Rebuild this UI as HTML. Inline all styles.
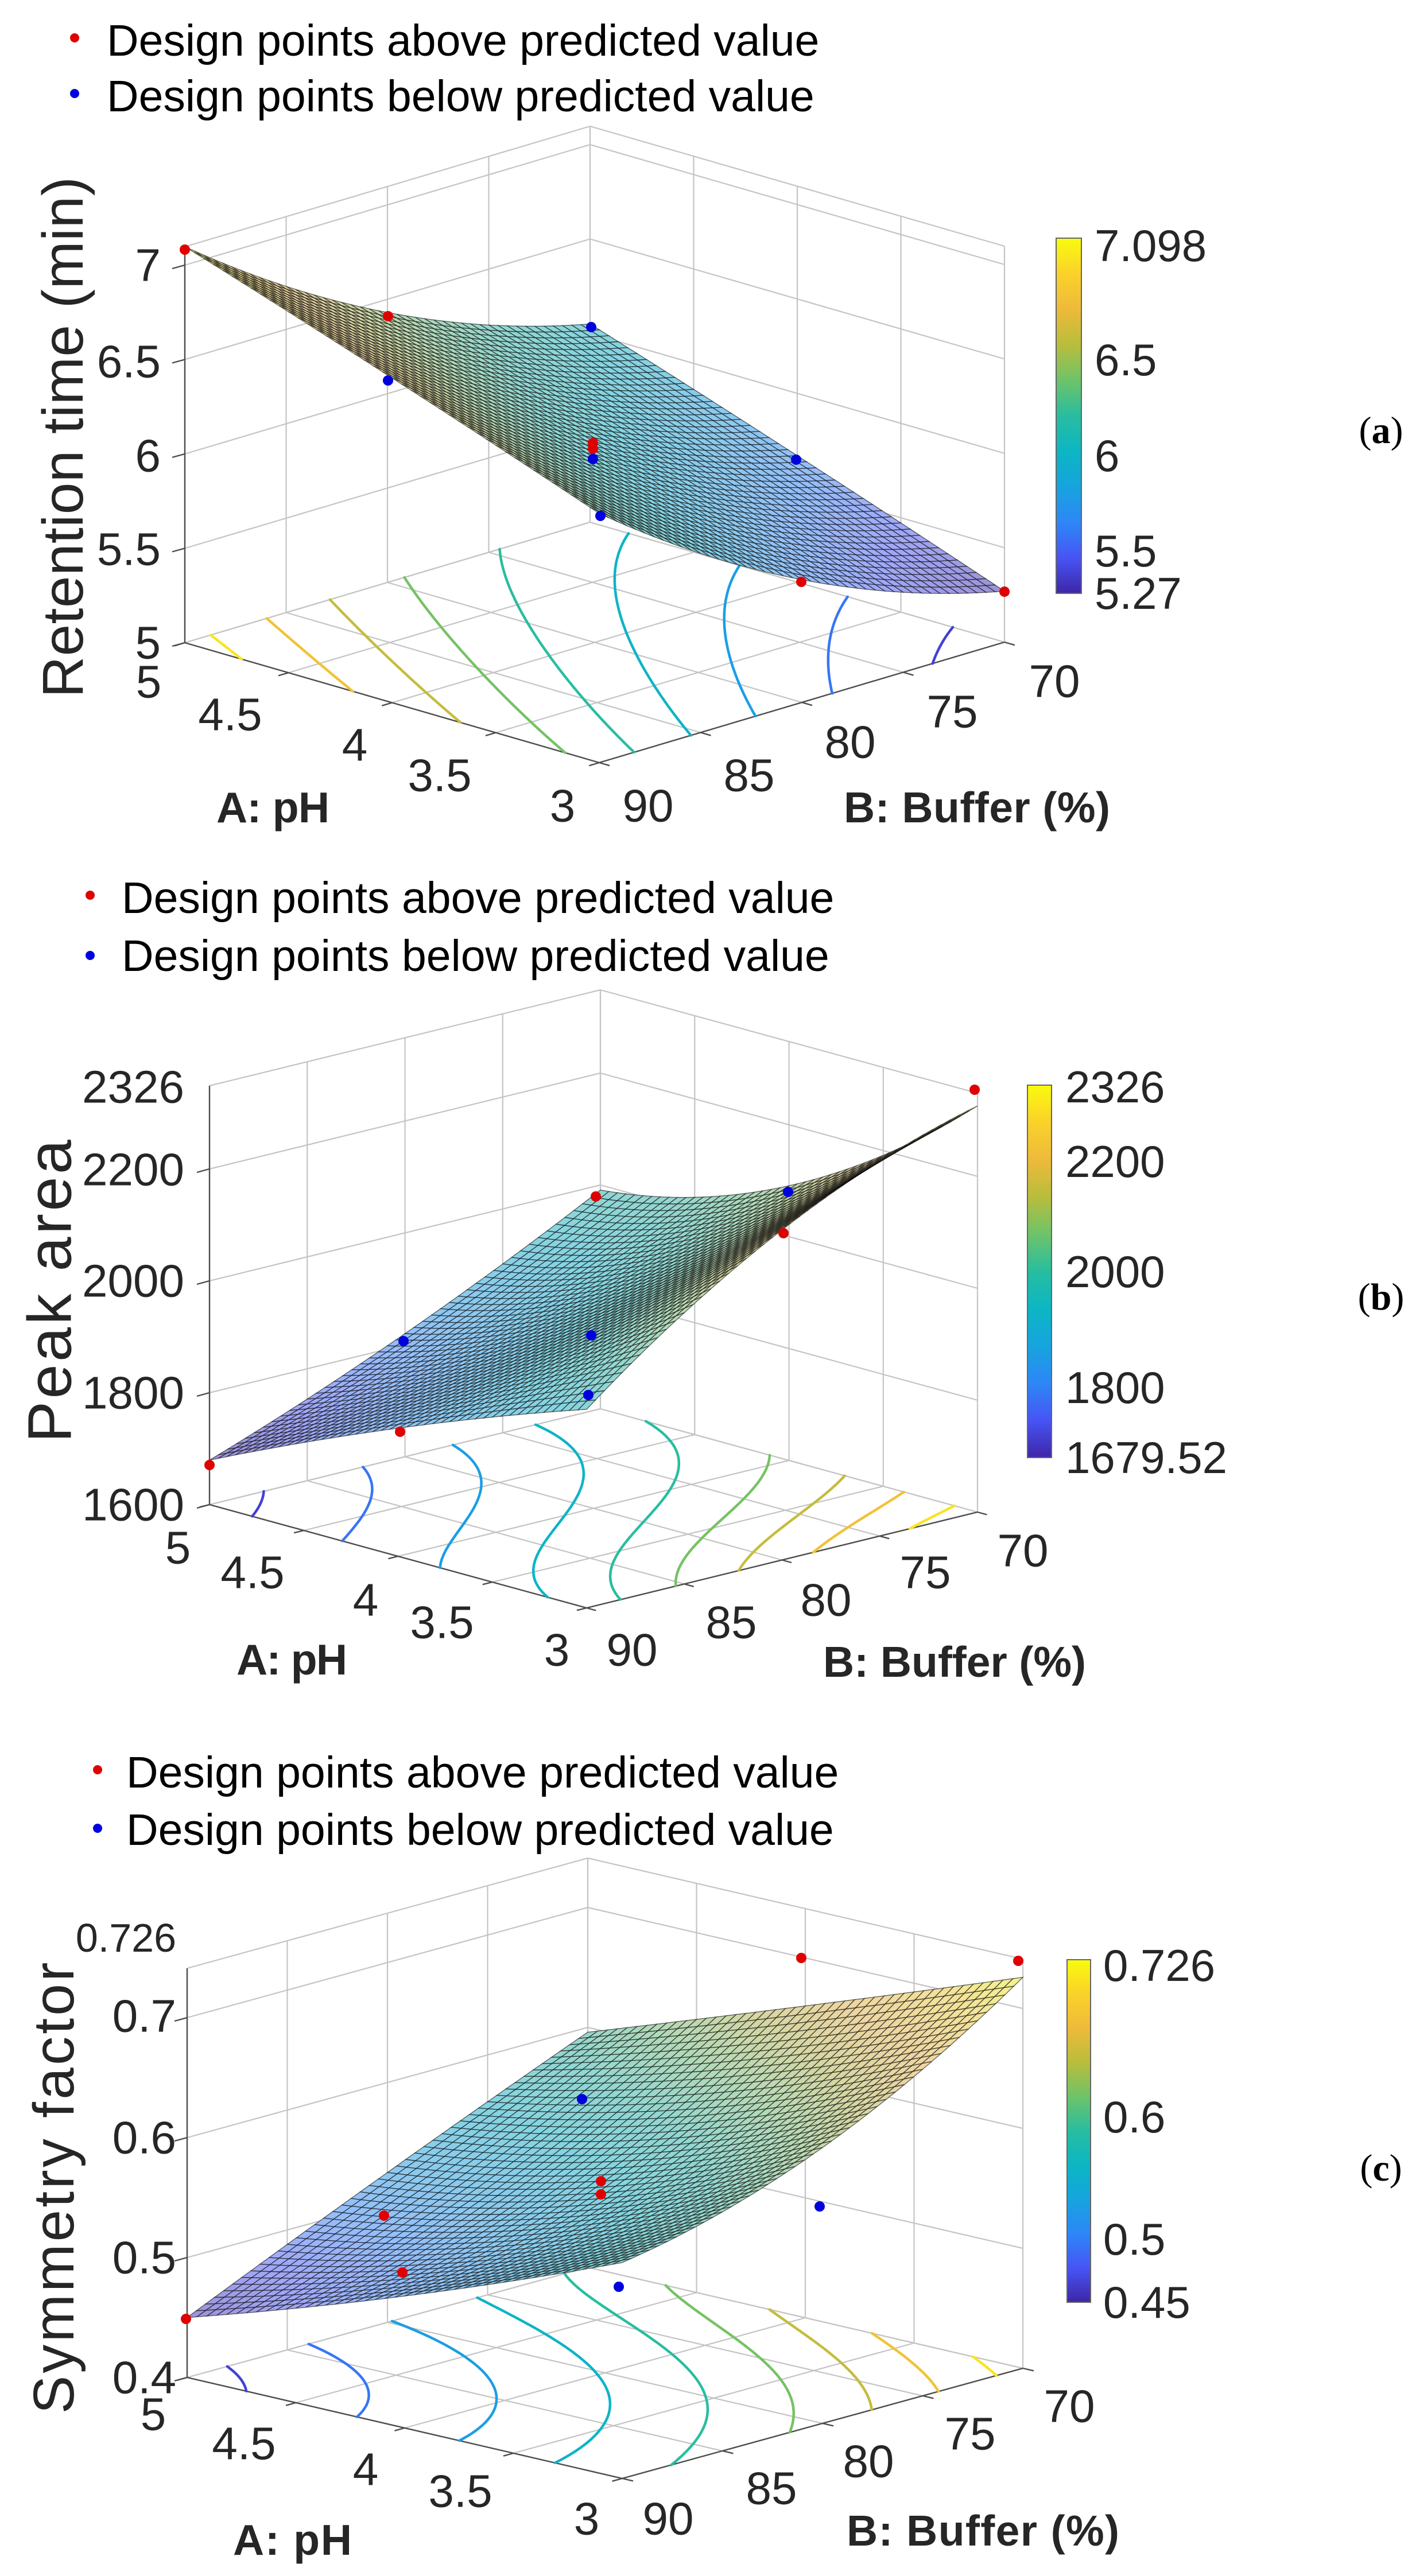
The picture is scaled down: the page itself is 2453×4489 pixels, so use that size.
<!DOCTYPE html>
<html><head><meta charset="utf-8">
<style>
html,body{margin:0;padding:0;background:#fff;}
svg{display:block;}
text{font-family:"Liberation Sans",Arial,sans-serif;fill:#262626;}
.tk{font-size:80px;}
.lg{font-size:77px;fill:#000;}
.ax{font-size:75px;font-weight:bold;}
.cb{font-size:78px;}
.pl{font-family:"Liberation Serif",serif;font-size:66px;fill:#000;}
</style></head><body>
<svg id="s" xmlns="http://www.w3.org/2000/svg" width="2453" height="4489" viewBox="0 0 2453 4489">
<defs>
<linearGradient id="par" x1="0" y1="1" x2="0" y2="0">
<stop offset="0" stop-color="rgb(62,38,168)"/>
<stop offset="0.1" stop-color="rgb(71,84,245)"/>
<stop offset="0.2" stop-color="rgb(45,135,247)"/>
<stop offset="0.3" stop-color="rgb(22,164,222)"/>
<stop offset="0.4" stop-color="rgb(12,182,195)"/>
<stop offset="0.5" stop-color="rgb(40,189,160)"/>
<stop offset="0.6" stop-color="rgb(110,195,105)"/>
<stop offset="0.7" stop-color="rgb(185,189,60)"/>
<stop offset="0.8" stop-color="rgb(238,186,58)"/>
<stop offset="0.9" stop-color="rgb(250,210,42)"/>
<stop offset="1" stop-color="rgb(249,251,14)"/>
</linearGradient>
</defs>
<g id="g0"></g><g id="g1"></g><g id="g2"></g>

<!-- Panel a text -->
<circle cx="130" cy="66" r="8" fill="#e00000"/>
<circle cx="130" cy="163" r="8" fill="#0000e0"/>
<text class="lg" x="186" y="97">Design points above predicted value</text>
<text class="lg" x="186" y="194">Design points below predicted value</text>
<text x="110" y="762" text-anchor="middle" transform="rotate(-90 110 762)" dominant-baseline="central" textLength="908" style="font-size:100px">Retention time (min)</text>
<g class="tk" text-anchor="end" dominant-baseline="central">
<text x="280" y="462">7</text><text x="280" y="630">6.5</text><text x="280" y="794">6</text><text x="280" y="957">5.5</text><text x="280" y="1120">5</text>
</g>
<g class="tk" text-anchor="middle" dominant-baseline="central">
<text x="259" y="1188">5</text><text x="401" y="1245">4.5</text><text x="618" y="1298">4</text><text x="766" y="1351">3.5</text><text x="980" y="1404">3</text>
<text x="1129" y="1404">90</text><text x="1305" y="1351">85</text><text x="1481" y="1293">80</text><text x="1659" y="1240">75</text><text x="1837" y="1187">70</text>
</g>
<text class="ax" x="377" y="1433" textLength="197">A: pH</text>
<text class="ax" x="1470" y="1433" textLength="464">B: Buffer (%)</text>
<rect x="1840" y="415" width="44" height="619" fill="url(#par)" stroke="#666" stroke-width="2"/>
<g class="cb" dominant-baseline="central">
<text x="1907" y="428">7.098</text><text x="1907" y="627">6.5</text><text x="1907" y="794">6</text><text x="1907" y="960">5.5</text><text x="1907" y="1034">5.27</text>
</g>
<text class="pl" x="2406" y="750" text-anchor="middle" dominant-baseline="central">(<tspan font-weight="bold">a</tspan>)</text>

<!-- Panel b text -->
<circle cx="157" cy="1560" r="8" fill="#e00000"/>
<circle cx="157" cy="1665" r="8" fill="#0000e0"/>
<text class="lg" x="212" y="1591">Design points above predicted value</text>
<text class="lg" x="212" y="1692">Design points below predicted value</text>
<text x="86" y="2250" text-anchor="middle" dominant-baseline="central" transform="rotate(-90 86 2250)" textLength="528" style="font-size:108px">Peak area</text>
<g class="tk" text-anchor="end" dominant-baseline="central">
<text x="321" y="1894">2326</text><text x="321" y="2038">2200</text><text x="321" y="2232">2000</text><text x="321" y="2427">1800</text><text x="321" y="2622">1600</text>
</g>
<g class="tk" text-anchor="middle" dominant-baseline="central">
<text x="310" y="2697">5</text><text x="440" y="2740">4.5</text><text x="637" y="2788">4</text><text x="770" y="2827">3.5</text><text x="970" y="2875">3</text>
<text x="1101" y="2875">90</text><text x="1274" y="2827">85</text><text x="1439" y="2788">80</text><text x="1612" y="2740">75</text><text x="1782" y="2702">70</text>
</g>
<text class="ax" x="412" y="2918" textLength="193">A: pH</text>
<text class="ax" x="1434" y="2922" textLength="458">B: Buffer (%)</text>
<rect x="1790" y="1891" width="42" height="649" fill="url(#par)" stroke="#666" stroke-width="2"/>
<g class="cb" dominant-baseline="central">
<text x="1856" y="1894">2326</text><text x="1856" y="2024">2200</text><text x="1856" y="2216">2000</text><text x="1856" y="2418">1800</text><text x="1856" y="2540">1679.52</text>
</g>
<text class="pl" x="2406" y="2260" text-anchor="middle" dominant-baseline="central">(<tspan font-weight="bold">b</tspan>)</text>

<!-- Panel c text -->
<circle cx="170" cy="3084" r="8" fill="#e00000"/>
<circle cx="170" cy="3186" r="8" fill="#0000e0"/>
<text class="lg" x="220" y="3115">Design points above predicted value</text>
<text class="lg" x="220" y="3215">Design points below predicted value</text>
<text x="94" y="3813" text-anchor="middle" dominant-baseline="central" transform="rotate(-90 94 3813)" textLength="787" style="font-size:100px">Symmetry factor</text>
<g class="tk" text-anchor="end" dominant-baseline="central">
<text x="307" y="3377" style="font-size:70px">0.726</text><text x="307" y="3513">0.7</text><text x="307" y="3725">0.6</text><text x="307" y="3934">0.5</text><text x="307" y="4143">0.4</text>
</g>
<g class="tk" text-anchor="middle" dominant-baseline="central">
<text x="267" y="4207">5</text><text x="425" y="4258">4.5</text><text x="637" y="4303">4</text><text x="802" y="4341">3.5</text><text x="1022" y="4389">3</text>
<text x="1164" y="4389">90</text><text x="1344" y="4336">85</text><text x="1513" y="4289">80</text><text x="1690" y="4241">75</text><text x="1863" y="4193">70</text>
</g>
<text class="ax" x="406" y="4452" textLength="207">A: pH</text>
<text class="ax" x="1475" y="4436" textLength="475">B: Buffer (%)</text>
<rect x="1859" y="3415" width="41" height="597" fill="url(#par)" stroke="#666" stroke-width="2"/>
<g class="cb" dominant-baseline="central">
<text x="1922" y="3425">0.726</text><text x="1922" y="3689">0.6</text><text x="1922" y="3902">0.5</text><text x="1922" y="4012">0.45</text>
</g>
<text class="pl" x="2406" y="3778" text-anchor="middle" dominant-baseline="central">(<tspan font-weight="bold">c</tspan>)</text>
</svg>
<script>
(function(){
var NS="http://www.w3.org/2000/svg";
var stops=[[62,38,168],[71,84,245],[45,135,247],[22,164,222],[12,182,195],[40,189,160],[110,195,105],[185,189,60],[238,186,58],[250,210,42],[249,251,14]];
function par(t){t=Math.max(0,Math.min(1,t));var x=t*10,i=Math.min(9,Math.floor(x)),f=x-i,a=stops[i],b=stops[i+1];
return [a[0]+(b[0]-a[0])*f,a[1]+(b[1]-a[1])*f,a[2]+(b[2]-a[2])*f];}
function rgb(c){return "rgb("+Math.round(c[0])+","+Math.round(c[1])+","+Math.round(c[2])+")";}
function Lb(t){return [2*(t-0.5)*(t-1),-4*t*(t-1),2*t*(t-0.5)];}
var P=[
{L:[322,1120],A:[722,209],B:[706,-210],k:329,zmin:5,H:690,zt:[5,5.5,6,6.5,7],
 F:[[7.098,6.43,6.05],[6.72,6.06,5.67],[6.32,5.65,5.27]],cmin:5.27,cmax:7.098,
 red:[[322,435],[676,551],[1033,772],[1033,782],[1396,1014],[1750,1031]],
 blue:[[676,663],[1030,570],[1033,800],[1046,899],[1387,801]]},
{L:[365,2622],A:[657,180],B:[681,-167],k:0.975,zmin:1600,H:730,zt:[1600,1800,2000,2200],
 F:[[1679.5,1820,1991],[1829,1950,2091],[1955,2190,2326]],cmin:1679.52,cmax:2326,
 red:[[365,2553],[697,2495],[1038,2085],[1365,2149],[1698,1899]],
 blue:[[703,2337],[1030,2327],[1025,2431],[1373,2077]]},
{L:[326,4143],A:[758,176],B:[698,-192],k:2090,zmin:0.4,H:713,zt:[0.4,0.5,0.6,0.7],
 F:[[0.45,0.525,0.596],[0.51,0.56,0.66],[0.58,0.63,0.726]],cmin:0.45,cmax:0.726,
 red:[[324,4041],[669,3861],[701,3960],[1047,3801],[1047,3824],[1396,3412],[1774,3417]],
 blue:[[1014,3658],[1078,3985],[1428,3845]]}
];
function el(g,tag,at){var e=document.createElementNS(NS,tag);for(var k in at)e.setAttribute(k,at[k]);g.appendChild(e);return e;}
P.forEach(function(p,pi){
 var g=document.getElementById("g"+pi);
 function f(u,v){var a=Lb(u),b=Lb(v),s=0;for(var i=0;i<3;i++)for(var j=0;j<3;j++)s+=p.F[i][j]*a[i]*b[j];return s;}
 function pr(u,v,h){return [p.L[0]+u*p.A[0]+v*p.B[0],p.L[1]+u*p.A[1]+v*p.B[1]-h];}
 function zh(z){return (z-p.zmin)*p.k;}
 function line(a,b,c,w){el(g,"line",{x1:a[0].toFixed(1),y1:a[1].toFixed(1),x2:b[0].toFixed(1),y2:b[1].toFixed(1),stroke:c,"stroke-width":w});}
 var gc="#c4c4c4",gw=2.2;
 var ts=[0,0.25,0.5,0.75,1];
 ts.forEach(function(t){line(pr(t,0,0),pr(t,1,0),gc,gw);line(pr(0,t,0),pr(1,t,0),gc,gw);});
 ts.forEach(function(t){line(pr(0,t,0),pr(0,t,p.H),gc,gw);});
 p.zt.forEach(function(z){line(pr(0,0,zh(z)),pr(0,1,zh(z)),gc,gw);});
 line(pr(0,0,p.H),pr(0,1,p.H),gc,gw);
 ts.forEach(function(t){line(pr(t,1,0),pr(t,1,p.H),gc,gw);});
 p.zt.forEach(function(z){line(pr(0,1,zh(z)),pr(1,1,zh(z)),gc,gw);});
 line(pr(0,1,p.H),pr(1,1,p.H),gc,gw);
 var ac="#4d4d4d";
 line(pr(0,0,0),pr(1,0,0),ac,2.4);line(pr(1,0,0),pr(1,1,0),ac,2.4);line(pr(0,0,0),pr(0,0,p.H),ac,2.4);
 ts.forEach(function(t){var a=pr(t,0,0);line(a,[a[0]-p.B[0]*0.025,a[1]-p.B[1]*0.025],ac,2.4);
   var b=pr(1,t,0);line(b,[b[0]+p.A[0]*0.025,b[1]+p.A[1]*0.025],ac,2.4);});
 p.zt.forEach(function(z){var a=pr(0,0,zh(z));line(a,[a[0]-22,a[1]+6],ac,2.4);});
 var M=60,vals=[];for(var i=0;i<=M;i++){vals[i]=[];for(var j=0;j<=M;j++)vals[i][j]=f(i/M,j/M);}
 var nl=9,rng=p.cmax-p.cmin;
 for(var l=0;l<nl;l++){
  var lev=p.cmin+rng*(l+0.5)/nl, col=rgb(par((lev-p.cmin)/rng)), d="";
  for(var i=0;i<M;i++)for(var j=0;j<M;j++){
   var c=[[i,j],[i+1,j],[i+1,j+1],[i,j+1]],pts=[];
   for(var e=0;e<4;e++){var a=c[e],b=c[(e+1)%4],va=vals[a[0]][a[1]],vb=vals[b[0]][b[1]];
    if((va-lev)*(vb-lev)<0){var t=(lev-va)/(vb-va);pts.push(pr((a[0]+(b[0]-a[0])*t)/M,(a[1]+(b[1]-a[1])*t)/M,0));}}
   if(pts.length>=2)d+="M"+pts[0][0].toFixed(1)+" "+pts[0][1].toFixed(1)+"L"+pts[1][0].toFixed(1)+" "+pts[1][1].toFixed(1);
   if(pts.length==4)d+="M"+pts[2][0].toFixed(1)+" "+pts[2][1].toFixed(1)+"L"+pts[3][0].toFixed(1)+" "+pts[3][1].toFixed(1);
  }
  el(g,"path",{d:d,stroke:col,"stroke-width":4.5,fill:"none","stroke-linecap":"round"});
 }
 var N=44,q=[];
 for(var i=0;i<N;i++)for(var j=0;j<N;j++)q.push([i,j]);
 q.sort(function(a,b){return (a[0]-a[1])-(b[0]-b[1]);});
 var sg=el(g,"g",{stroke:"rgba(15,15,15,0.62)","stroke-width":1.4});
 q.forEach(function(c){
  var i=c[0],j=c[1],cs=[[i,j],[i+1,j],[i+1,j+1],[i,j+1]],s="",zs=0;
  cs.forEach(function(k){var z=f(k[0]/N,k[1]/N);zs+=z;var P2=pr(k[0]/N,k[1]/N,zh(z));s+=P2[0].toFixed(1)+","+P2[1].toFixed(1)+" ";});
  var cc=par((zs/4-p.cmin)/rng),a=0.5;
  var fc=[cc[0]*a+255*(1-a)*0.92,cc[1]*a+255*(1-a)*0.92,cc[2]*a+255*(1-a)*0.98];
  el(sg,"polygon",{points:s,fill:rgb(fc),"fill-opacity":0.92});
 });
 p.red.forEach(function(c){el(g,"circle",{cx:c[0],cy:c[1],r:9,fill:"#e00000"});});
 p.blue.forEach(function(c){el(g,"circle",{cx:c[0],cy:c[1],r:9,fill:"#0000dd"});});
});
})();
</script>
</body></html>
